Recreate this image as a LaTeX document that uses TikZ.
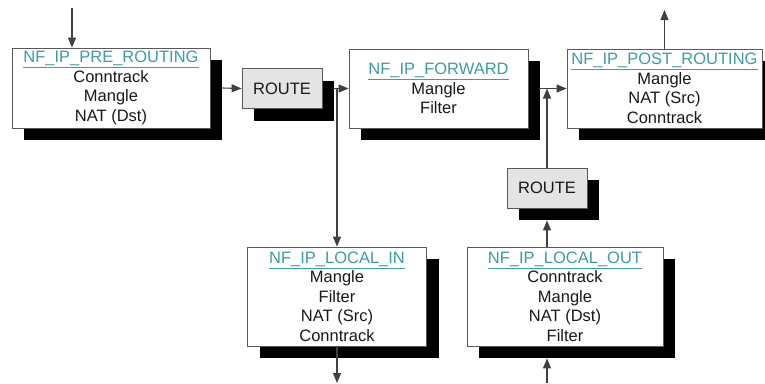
\documentclass[tikz,border=0pt]{standalone}
\usepackage{fontspec}
\setmainfont{Liberation Sans}
\usetikzlibrary{arrows.meta,shadows}
\definecolor{hookteal}{HTML}{3E9CA3}
\definecolor{routegray}{HTML}{E4E4E4}
\newcommand{\hookname}[1]{\textcolor{hookteal}{\underline{#1}}}

\begin{document}
\begin{tikzpicture}[x=1pt, y=-1pt,
		hookbox/.style={draw=black!65, line width=0.8pt, fill=white, inner sep=0pt,
			align=center, text=black!90, font=\fontsize{16.5}{19.5}\selectfont,
			drop shadow={shadow xshift=12pt, shadow yshift=-12pt, opacity=1, fill=black}},
		routebox/.style={hookbox, fill=routegray, minimum width=80pt, minimum height=40pt},
		wire/.style={draw=black!75, line width=1.1pt, -{Triangle[length=10pt,width=8pt]}}]
	\clip (0,0) rectangle (765,383);
	\fill[white] (0,0) rectangle (765,383);

	\node[hookbox, minimum width=198pt, minimum height=80pt] (pre) at (111,88)
		{\hookname{NF\_IP\_PRE\_ROUTING}\\Conntrack\\Mangle\\NAT (Dst)};
	\node[routebox] (route1) at (282,88.5) {ROUTE};
	\node[hookbox, minimum width=179pt, minimum height=79pt] (fwd) at (438.5,88.5)
		{\hookname{NF\_IP\_FORWARD}\\Mangle\\Filter};
	\node[hookbox, minimum width=195pt, minimum height=79pt] (post) at (664.5,88.5)
		{\hookname{NF\_IP\_POST\_ROUTING}\\Mangle\\NAT (Src)\\Conntrack};
	\node[routebox] (route2) at (547,188) {ROUTE};
	\node[hookbox, minimum width=179pt, minimum height=99pt] (lin) at (337,296.5)
		{\hookname{NF\_IP\_LOCAL\_IN}\\Mangle\\Filter\\NAT (Src)\\Conntrack};
	\node[hookbox, minimum width=196pt, minimum height=99pt] (lout) at (565,296.5)
		{\hookname{NF\_IP\_LOCAL\_OUT}\\Conntrack\\Mangle\\NAT (Dst)\\Filter};

	\coordinate (in) at (72,8);
	\coordinate (out) at (664.5,10);
	\coordinate (down) at (337,383);
	\coordinate (up) at (547,383);

	\draw[wire] (in) -- (in |- pre.north);
	\draw[wire] ([xshift=12pt]pre.east) -- (route1.west);
	\draw[wire] ([xshift=11pt]route1.east) -- (fwd.west);
	\draw[wire] (lin.north |- fwd.west) -- (lin.north);
	\draw[wire] ([xshift=11pt]fwd.east) -- (post.west);
	\draw[wire] (route2.north) -- (route2.north |- post.west);
	\draw[wire] (route2.north |- lout.north) -- ([yshift=-12pt]route2.south);
	\draw[wire] (post.north) -- (out);
	\draw[wire] (lin.south) -- (down);
	\draw[wire] (up) -- ([yshift=-12pt]up |- lout.south);
\end{tikzpicture}
\end{document}
